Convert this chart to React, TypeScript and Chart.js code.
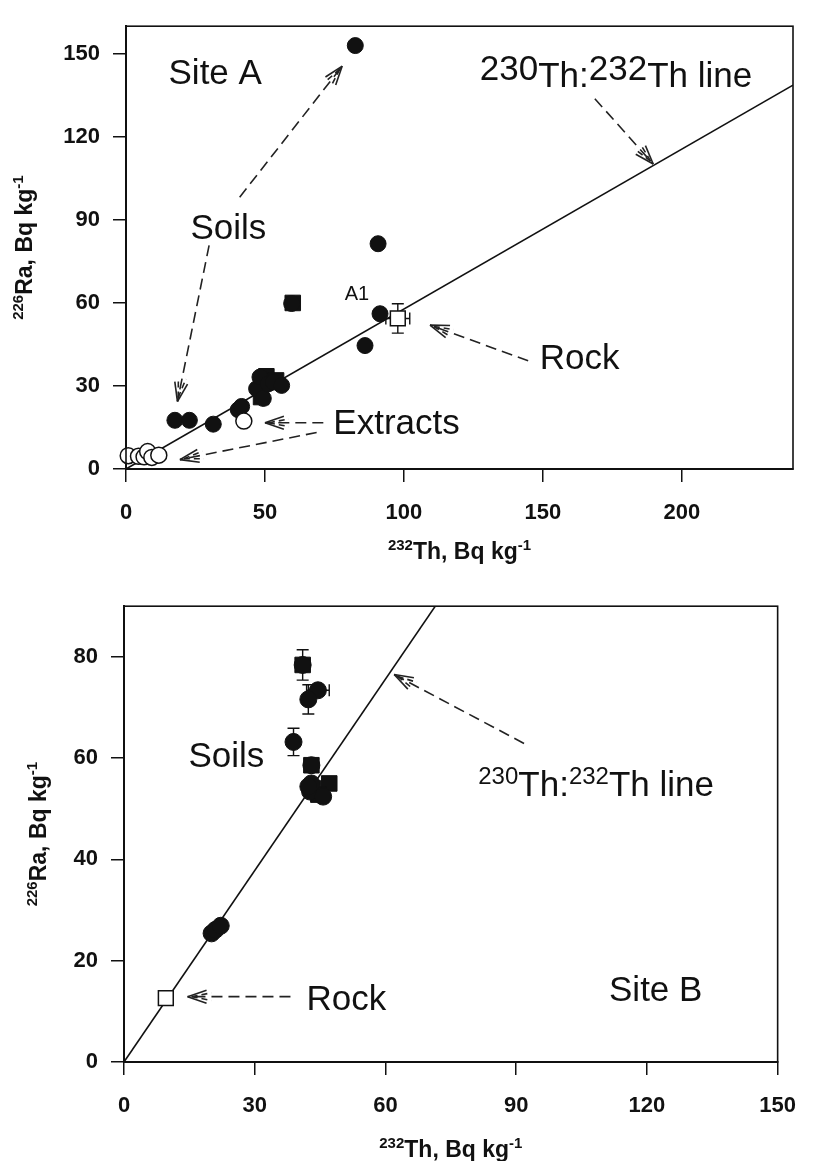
import React, { useEffect, useRef } from "react";
import { Chart, registerables } from "chart.js";

Chart.register(...registerables);

const FONT = "'Liberation Sans', Arial, Helvetica, sans-serif";
const INK = "#111";

// ---------------- Site A ----------------
const siteAXTicks = [0, 50, 100, 150, 200];
const siteAYTicks = [0, 30, 60, 90, 120, 150];
const siteASoilX = [17.6, 22.8, 31.4, 40.4, 41.6, 47.0, 48.2, 49.4, 51.2, 53.0, 56.0, 86.0, 91.4, 90.7, 82.5, 59.6];
const siteASoilY = [17.6, 17.6, 16.2, 21.4, 22.6, 29.0, 33.2, 25.5, 30.8, 31.4, 30.2, 44.6, 56.1, 81.4, 153.0, 59.8];
const siteASoilSqX = [48.6, 50.5, 60.0, 54.0];
const siteASoilSqY = [26.0, 33.5, 60.0, 32.0];
const siteAExtractX = [0.8, 4.5, 6.5, 7.8, 9.3, 11.8, 42.4];
const siteAExtractY = [4.8, 4.6, 4.4, 6.3, 4.2, 5.0, 17.3];
const siteARockX = [97.8];
const siteARockY = [54.4];
const siteARockErrX = [4.3];
const siteARockErrY = [5.3];
const siteARatio = 0.578;

// ---------------- Site B ----------------
const siteBXTicks = [0, 30, 60, 90, 120, 150];
const siteBYTicks = [0, 20, 40, 60, 80];
const siteBSoilX = [41.0, 44.5, 42.3, 38.9, 43.0, 42.7, 45.7, 43.0, 42.3, 20.1, 21.0, 22.2];
const siteBSoilY = [78.4, 73.4, 71.6, 63.2, 58.6, 53.4, 52.4, 55.0, 54.4, 25.4, 26.1, 26.9];
const siteBSoilErrX = [1.0, 2.6, 0, 0, 0, 0, 0, 0, 0, 0, 0, 0];
const siteBSoilErrY = [3.0, 0, 2.9, 2.7, 0, 0, 0, 0, 0, 0, 0, 0];
const siteBSoilSqX = [41.0, 43.0, 47.1, 44.6, 43.4];
const siteBSoilSqY = [78.4, 58.6, 55.0, 52.8, 54.0];
const siteBRockX = [9.6];
const siteBRockY = [12.6];
const siteBRatio = 1.26;

type Seg = { t: string; size: number; dy?: number; bold?: boolean };
type Note = { x: number; y: number; segs: Seg[] };
type Arrow = { x1: number; y1: number; x2: number; y2: number };
type ErrSet = { xs: number[]; ys: number[]; ex: number[]; ey: number[] };

type PanelCfg = {
  height: number;
  xMax: number;
  yMax: number;
  xTicks: number[];
  yTicks: number[];
  padTop: number;
  padRight: number;
  yAxisW: number;
  xAxisH: number;
  ratio: number;
  datasets: any[];
  errs: ErrSet[];
  notes: Note[];
  arrows: Arrow[];
  xTitleBase: number;
  yTitleBase: number;
};

function fontOf(s: Seg) {
  return `${s.bold ? "bold " : ""}${s.size}px ${FONT}`;
}

function drawRich(ctx: CanvasRenderingContext2D, segs: Seg[], x: number, y: number, align: "left" | "center") {
  let w = 0;
  for (const s of segs) {
    ctx.font = fontOf(s);
    w += ctx.measureText(s.t).width;
  }
  let cx = align === "center" ? x - w / 2 : x;
  ctx.save();
  ctx.fillStyle = INK;
  ctx.textAlign = "left";
  ctx.textBaseline = "alphabetic";
  for (const s of segs) {
    ctx.font = fontOf(s);
    ctx.fillText(s.t, cx, y + (s.dy || 0));
    cx += ctx.measureText(s.t).width;
  }
  ctx.restore();
}

function drawArrow(ctx: CanvasRenderingContext2D, x1: number, y1: number, x2: number, y2: number) {
  ctx.save();
  ctx.strokeStyle = "#222";
  ctx.lineWidth = 1.6;
  ctx.setLineDash([11, 6]);
  ctx.beginPath();
  ctx.moveTo(x1, y1);
  ctx.lineTo(x2, y2);
  ctx.stroke();
  const ang = Math.atan2(y1 - y2, x1 - x2);
  ctx.setLineDash([]);
  for (const d of [-0.33, 0.33]) {
    ctx.beginPath();
    ctx.moveTo(x2, y2);
    ctx.lineTo(x2 + 20 * Math.cos(ang + d), y2 + 20 * Math.sin(ang + d));
    ctx.stroke();
  }
  ctx.setLineDash([6, 4]);
  for (const d of [-0.16, 0.16]) {
    ctx.beginPath();
    ctx.moveTo(x2 + 4 * Math.cos(ang), y2 + 4 * Math.sin(ang));
    ctx.lineTo(x2 + 24 * Math.cos(ang + d), y2 + 24 * Math.sin(ang + d));
    ctx.stroke();
  }
  ctx.restore();
}

const xTitle: Seg[] = [
  { t: "232", size: 15, dy: -9, bold: true },
  { t: "Th, Bq kg", size: 23, bold: true },
  { t: "-1", size: 15, dy: -9, bold: true },
];
const yTitle: Seg[] = [
  { t: "226", size: 15, dy: -9, bold: true },
  { t: "Ra, Bq kg", size: 23, bold: true },
  { t: "-1", size: 15, dy: -9, bold: true },
];

function makePlugin(cfg: PanelCfg) {
  return {
    id: "decor",
    beforeDatasetsDraw(chart: any) {
      const ctx: CanvasRenderingContext2D = chart.ctx;
      const xs = chart.scales.x;
      const ys = chart.scales.y;
      ctx.save();
      ctx.strokeStyle = INK;
      ctx.lineWidth = 1.4;
      for (const e of cfg.errs) {
        e.xs.forEach((xv, i) => {
          const px = xs.getPixelForValue(xv);
          const py = ys.getPixelForValue(e.ys[i]);
          if (e.ey[i] > 0) {
            const t = ys.getPixelForValue(e.ys[i] + e.ey[i]);
            const b = ys.getPixelForValue(e.ys[i] - e.ey[i]);
            ctx.beginPath();
            ctx.moveTo(px, t); ctx.lineTo(px, b);
            ctx.moveTo(px - 6, t); ctx.lineTo(px + 6, t);
            ctx.moveTo(px - 6, b); ctx.lineTo(px + 6, b);
            ctx.stroke();
          }
          if (e.ex[i] > 0) {
            const l = xs.getPixelForValue(xv - e.ex[i]);
            const r = xs.getPixelForValue(xv + e.ex[i]);
            ctx.beginPath();
            ctx.moveTo(l, py); ctx.lineTo(r, py);
            ctx.moveTo(l, py - 6); ctx.lineTo(l, py + 6);
            ctx.moveTo(r, py - 6); ctx.lineTo(r, py + 6);
            ctx.stroke();
          }
        });
      }
      ctx.restore();
    },
    afterDraw(chart: any) {
      const ctx: CanvasRenderingContext2D = chart.ctx;
      const a = chart.chartArea;
      const xs = chart.scales.x;
      const ys = chart.scales.y;
      ctx.save();
      ctx.strokeStyle = INK;
      ctx.lineWidth = 1.6;
      ctx.strokeRect(a.left, a.top, a.right - a.left, a.bottom - a.top);
      ctx.restore();
      // axis titles
      drawRich(ctx, xTitle, (a.left + a.right) / 2, cfg.xTitleBase, "center");
      ctx.save();
      ctx.translate(cfg.yTitleBase, (a.top + a.bottom) / 2);
      ctx.rotate(-Math.PI / 2);
      drawRich(ctx, yTitle, 0, 0, "center");
      ctx.restore();
      for (const n of cfg.notes) {
        drawRich(ctx, n.segs, xs.getPixelForValue(n.x), ys.getPixelForValue(n.y), "left");
      }
      for (const ar of cfg.arrows) {
        drawArrow(
          ctx,
          xs.getPixelForValue(ar.x1), ys.getPixelForValue(ar.y1),
          xs.getPixelForValue(ar.x2), ys.getPixelForValue(ar.y2)
        );
      }
    },
  };
}

function pts(xs: number[], ys: number[]) {
  return xs.map((x, i) => ({ x, y: ys[i] }));
}

function buildConfig(cfg: PanelCfg): any {
  const axisCommon = (ticks: number[], isX: boolean) => ({
    type: "linear",
    min: 0,
    max: isX ? cfg.xMax : cfg.yMax,
    afterBuildTicks: (s: any) => {
      s.ticks = ticks.map((v) => ({ value: v }));
    },
    afterFit: (s: any) => {
      if (isX) s.height = cfg.xAxisH;
      else s.width = cfg.yAxisW;
    },
    grid: { display: true, drawOnChartArea: false, drawTicks: true, tickLength: 13, color: INK, lineWidth: 1.5 },
    border: { display: true, color: INK, width: 2 },
    ticks: {
      color: INK,
      font: { family: FONT, size: 22, weight: "bold" },
      padding: isX ? 18 : 13,
      maxRotation: 0,
      autoSkip: false,
    },
  });
  const lineXs = [0, cfg.xMax];
  return {
    type: "scatter",
    data: {
      datasets: [
        {
          data: lineXs.map((x) => ({ x, y: cfg.ratio * x })),
          showLine: true,
          borderColor: INK,
          borderWidth: 1.6,
          pointRadius: 0,
          order: 10,
        },
        ...cfg.datasets,
      ],
    },
    options: {
      responsive: false,
      animation: false,
      events: [],
      layout: { padding: { top: cfg.padTop, right: cfg.padRight, left: 0, bottom: 0 } },
      plugins: { legend: { display: false }, tooltip: { enabled: false } },
      scales: { x: axisCommon(cfg.xTicks, true), y: axisCommon(cfg.yTicks, false) },
    },
    plugins: [makePlugin(cfg)],
  };
}

const filled = (data: any[], style: string, r: number, order: number) => ({
  data,
  pointStyle: style,
  pointRadius: r,
  backgroundColor: INK,
  borderColor: INK,
  borderWidth: 1,
  clip: false,
  order,
});
const open = (data: any[], style: string, r: number, order: number) => ({
  data,
  pointStyle: style,
  pointRadius: r,
  backgroundColor: "#fff",
  borderColor: INK,
  borderWidth: 1.5,
  clip: false,
  order,
});

const T = 35;

const panelA: PanelCfg = {
  height: 580,
  xMax: 240,
  yMax: 160,
  xTicks: siteAXTicks,
  yTicks: siteAYTicks,
  padTop: 15,
  padRight: 21,
  yAxisW: 126,
  xAxisH: 111,
  ratio: siteARatio,
  datasets: [
    filled(pts(siteASoilSqX, siteASoilSqY), "rect", 11, 3),
    filled(pts(siteASoilX, siteASoilY), "circle", 8, 2),
    open(pts(siteAExtractX, siteAExtractY), "circle", 8, 1),
    open(pts(siteARockX, siteARockY), "rect", 10.5, 0),
  ],
  errs: [{ xs: siteARockX, ys: siteARockY, ex: siteARockErrX, ey: siteARockErrY }],
  notes: [
    { x: 15.3, y: 139, segs: [{ t: "Site A", size: T }] },
    { x: 23.2, y: 83.2, segs: [{ t: "Soils", size: T }] },
    {
      x: 127.3,
      y: 138,
      segs: [
        { t: "230", size: T, dy: -7 },
        { t: "Th:", size: T },
        { t: "232", size: T, dy: -7 },
        { t: "Th line", size: T },
      ],
    },
    { x: 78.7, y: 61, segs: [{ t: "A1", size: 20 }] },
    { x: 148.9, y: 36.1, segs: [{ t: "Rock", size: T }] },
    { x: 74.6, y: 12.8, segs: [{ t: "Extracts", size: T }] },
  ],
  arrows: [
    { x1: 40.9, y1: 98.2, x2: 77.8, y2: 145.6 },
    { x1: 29.9, y1: 80.8, x2: 18.5, y2: 24.4 },
    { x1: 168.7, y1: 133.8, x2: 189.7, y2: 110.2 },
    { x1: 144.7, y1: 39.1, x2: 109.4, y2: 52 },
    { x1: 71, y1: 16.7, x2: 50, y2: 16.7 },
    { x1: 68.6, y1: 13.2, x2: 19.4, y2: 3.4 },
  ],
  xTitleBase: 559,
  yTitleBase: 32,
};

const panelB: PanelCfg = {
  height: 581,
  xMax: 150,
  yMax: 90,
  xTicks: siteBXTicks,
  yTicks: siteBYTicks,
  padTop: 21,
  padRight: 23,
  yAxisW: 124,
  xAxisH: 99,
  ratio: siteBRatio,
  datasets: [
    filled(pts(siteBSoilSqX, siteBSoilSqY), "rect", 11, 3),
    filled(pts(siteBSoilX, siteBSoilY), "circle", 8.5, 2),
    open(pts(siteBRockX, siteBRockY), "rect", 10.5, 0),
  ],
  errs: [{ xs: siteBSoilX, ys: siteBSoilY, ex: siteBSoilErrX, ey: siteBSoilErrY }],
  notes: [
    { x: 14.8, y: 58.3, segs: [{ t: "Soils", size: T }] },
    {
      x: 81.3,
      y: 52.6,
      segs: [
        { t: "230", size: 24, dy: -12 },
        { t: "Th:", size: T },
        { t: "232", size: 24, dy: -12 },
        { t: "Th line", size: T },
      ],
    },
    { x: 41.9, y: 10.3, segs: [{ t: "Rock", size: T }] },
    { x: 111.3, y: 12.1, segs: [{ t: "Site B", size: T }] },
  ],
  arrows: [
    { x1: 91.8, y1: 62.9, x2: 62, y2: 76.5 },
    { x1: 38.2, y1: 12.9, x2: 14.6, y2: 12.9 },
  ],
  xTitleBase: 577,
  yTitleBase: 46,
};

function Panel({ cfg }: { cfg: PanelCfg }) {
  const ref = useRef<HTMLCanvasElement | null>(null);
  useEffect(() => {
    if (!ref.current) return;
    const chart = new Chart(ref.current, buildConfig(cfg));
    return () => chart.destroy();
  }, [cfg]);
  return (
    <canvas
      ref={ref}
      width={814}
      height={cfg.height}
      style={{ display: "block", width: 814, height: cfg.height }}
    />
  );
}

export default function App() {
  return (
    <div style={{ position: "absolute", left: 0, top: 0, width: 814, height: 1161, background: "#fff", overflow: "hidden" }}>
      <Panel cfg={panelA} />
      <Panel cfg={panelB} />
    </div>
  );
}
